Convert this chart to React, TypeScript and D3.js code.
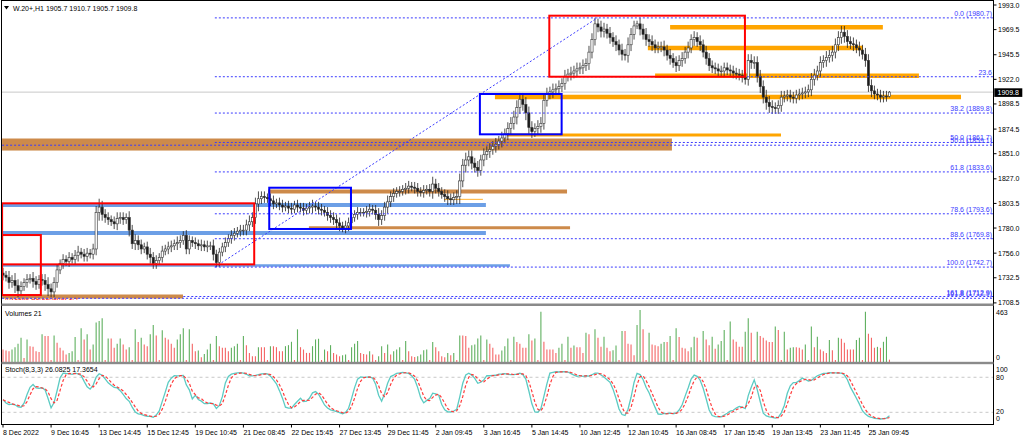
import React from 'react';
import * as d3 from 'd3';

const W = 1024;
const H = 440;

// ---------- DATA ----------
const HEADER = 'W.20+,H1  1905.7 1910.7 1905.7 1909.8';
const FIRST_OPEN = 1737;
const CLOSES = [
  1735,1733,1728,1730,1725,1720,1724,1728,1731,1732,
  1729,1726,1731,1730,1726,1722,1719,1728,1740,1746,
  1750,1748,1752,1750,1754,1757,1755,1753,1756,1755,
  1760,1795,1800,1793,1790,1788,1786,1784,1789,1790,
  1788,1790,1778,1765,1768,1764,1760,1762,1755,1752,
  1746,1749,1752,1758,1760,1762,1763,1765,1766,1768,
  1773,1760,1768,1766,1765,1763,1764,1762,1763,1763,
  1755,1747,1757,1762,1766,1770,1773,1775,1777,1778,
  1778,1783,1786,1790,1803,1808,1810,1809,1808,1806,
  1803,1804,1802,1800,1801,1799,1798,1802,1800,1799,
  1797,1799,1800,1801,1800,1798,1797,1795,1792,1790,
  1788,1785,1782,1780,1782,1785,1790,1793,1795,1795,
  1795,1796,1798,1797,1793,1788,1792,1800,1805,1810,
  1813,1815,1815,1817,1818,1820,1819,1818,1815,1814,
  1816,1817,1815,1822,1818,1815,1812,1810,1808,1807,
  1809,1810,1825,1840,1845,1848,1842,1838,1835,1845,
  1850,1853,1855,1858,1860,1863,1866,1870,1875,1880,
  1886,1895,1903,1898,1890,1876,1872,1875,1877,1880,
  1902,1908,1910,1912,1913,1915,1918,1925,1927,1928,
  1930,1932,1933,1935,1937,1948,1960,1975,1972,1968,
  1970,1966,1962,1958,1955,1950,1946,1945,1955,1965,
  1973,1975,1970,1965,1960,1958,1955,1952,1953,1953,
  1950,1945,1942,1938,1935,1940,1942,1948,1952,1960,
  1962,1958,1955,1948,1942,1935,1933,1932,1930,1930,
  1933,1931,1930,1928,1927,1926,1924,1922,1940,1938,
  1938,1925,1915,1905,1900,1896,1895,1894,1897,1905,
  1906,1907,1905,1904,1907,1908,1909,1910,1912,1922,
  1926,1930,1938,1940,1943,1945,1948,1955,1962,1967,
  1963,1958,1956,1955,1952,1950,1946,1940,1916,1911,
  1908,1907,1905,1906,1905.7,1909.8,
];
const WICKS = [
  5,4,6,5,7,6,5,4,5,4,
  6,5,4,5,6,7,5,5,5,4,
  5,4,5,4,5,6,4,5,5,4,
  5,6,8,6,5,5,4,5,6,5,
  5,4,6,5,6,5,5,4,5,6,
  5,5,4,5,4,5,5,4,6,5,
  4,5,5,4,5,4,5,4,5,4,
  6,4.3,4,4,5,4,5,5,4,5,
  5,5,6,5,6,7,5,5,4,5,
  5,4,5,5,4,5,5,4,5,4,
  5,4,5,6,4,5,5,4,5,5,
  5,5,5,4,5,5,5,4,5,4,
  4,5,5,4,5,6,5,5,6,5,
  5,4,5,4,5,5,4,5,5,4,
  5,4,5,7,5,5,4,5,6,5,
  5,6,7,6,7,6,6,5,6,5,
  6,5,6,5,6,5,6,5,6,6,
  6,7,6,6,7,6,6,5,6,6,
  6,6,5,6,5,6,5,6,5,6,
  5,6,5,6,5,6,6,5.7,5,6,
  6,5,6,5,6,5,6,5,7,6,
  5,3,6,5,6,5,6,5,5,5,
  6,5,6,5,6,5,6,5,6,5,
  6,5,6,5,6,5,5,5,5,5,
  5,5,5,5,5,5,5,5,6,6,
  6,6,6,6,7,6,6,5,5,6,
  5,5,5,5,5,5,5,5,5,6,
  6,5,6,5,6,5,6,6,6,6,
  6,6,5,6,5,6,5,6,6,6,
  5,5,5,5,5,1,
];
const VOLUMES = [
  111,102,96,111,132,162,216,36,201,141,
  135,96,90,246,231,231,18,237,171,126,
  102,66,81,96,222,18,300,201,246,111,
  156,351,366,390,18,210,210,126,162,210,
  156,111,132,18,291,177,216,156,141,246,
  330,237,18,282,216,201,162,126,201,246,
  300,18,291,162,96,102,42,72,111,162,
  18,231,141,126,126,96,126,141,162,18,
  231,150,81,51,51,132,132,132,18,141,
  141,132,96,96,141,150,180,18,291,132,
  111,81,81,141,201,207,18,111,96,150,
  81,66,51,60,66,18,132,162,186,81,
  72,66,96,66,18,51,141,81,156,66,
  96,111,132,18,186,96,51,45,51,66,
  105,111,18,177,132,96,51,42,81,60,
  81,18,237,237,231,126,150,156,210,237,
  18,201,162,126,66,66,102,141,210,18,
  225,177,162,126,126,246,192,210,18,447,
  180,111,111,111,81,126,162,18,225,126,
  147,132,132,81,261,246,18,291,216,135,
  225,126,96,105,147,18,276,276,162,156,
  60,330,463,291,18,261,156,150,141,162,
  177,177,231,18,300,222,126,120,96,132,
  225,216,18,276,201,150,225,117,156,186,
  285,18,360,201,180,135,135,270,390,261,
  18,270,231,216,192,177,177,315,285,18,
  270,111,126,132,132,126,111,156,18,315,
  132,225,111,96,81,195,105,18,216,207,
  171,111,111,111,195,216,18,447,252,216,
  126,135,126,180,225,21,
];
const TIME_LABELS = [
  '8 Dec 2022','9 Dec 16:45','13 Dec 14:45','15 Dec 12:45','19 Dec 10:45','21 Dec 08:45',
  '22 Dec 15:45','27 Dec 13:45','29 Dec 11:45','2 Jan 09:45','3 Jan 16:45','5 Jan 14:45',
  '10 Jan 12:45','12 Jan 10:45','16 Jan 08:45','17 Jan 15:45','19 Jan 13:45','23 Jan 11:45','25 Jan 09:45',
];
const TIME_LABEL_STEP = 16;
const PRICE_TICKS = [1993.0,1969.5,1945.5,1922.0,1898.5,1874.5,1851.0,1827.0,1803.5,1780.0,1756.0,1732.5,1708.5];
const PRICE_MIN = 1708.5;
const PRICE_MAX = 1993.0;
const LAST_PRICE = 1909.8;
const VOLUME_LABEL = 'Volumes 21';
const STOCH_LABEL = 'Stoch(8,3,3) 26.0825 17.3654';
const STOCH_K = 8, STOCH_SLOW = 3, STOCH_D = 3;
const STOCH_LEVELS = [80, 20];
const STOCH_AXIS = ['100', '80', '20', '0'];
const NOTE_TEXT = 'Investio Screenshot 1.4';

const FIB_FROM = { bar: 70.5, price: 1742.7 };
const FIB_TO = { bar: 197.8, price: 1980.7 };
const FIB_LEVELS = [
  { text: '0.0 (1980.7)', price: 1980.7, bar: 70.5 },
  { text: '23.6', price: 1924.5, bar: 70.5 },
  { text: '38.2 (1889.8)', price: 1889.8, bar: 70.5 },
  { text: '50.0 (1861.7)', price: 1861.7, bar: 70.5 },
  { text: '50.0 (1859.1)', price: 1859.1, bar: -0.3 },
  { text: '61.8 (1833.6)', price: 1833.6, bar: 70.5 },
  { text: '78.6 (1793.6)', price: 1793.6, bar: 70.5 },
  { text: '88.6 (1769.8)', price: 1769.8, bar: 70.5 },
  { text: '100.0 (1742.7)', price: 1742.7, bar: 70.5 },
  { text: '161.8 (1712.9)', price: 1714.6, bar: 60 },
  { text: '161.8 (1712.9)', price: 1712.9, bar: -0.3 },
];
const BOXES = [
  { b0: -0.3, b1: 12.6, p0: 1773.3, p1: 1716.0, kind: 'red' },
  { b0: -0.3, b1: 83.6, p0: 1803.6, p1: 1745.3, kind: 'red' },
  { b0: 181.8, b1: 246.9, p0: 1982.8, p1: 1924.5, kind: 'red' },
  { b0: 88.6, b1: 115.8, p0: 1818.5, p1: 1779.1, kind: 'blue' },
  { b0: 158.7, b1: 185.9, p0: 1908.0, p1: 1869.5, kind: 'blue' },
];
const ZONES = [{ b0: -0.3, b1: 222.6, p0: 1865.5, p1: 1854.0, kind: 'brown' }];
const BANDS = [
  { b0: -0.3, b1: 160.7, price: 1802.0, kind: 'blueA' },
  { b0: -0.3, b1: 160.7, price: 1775.2, kind: 'blueA' },
  { b0: -0.3, b1: 168.7, price: 1744.2, kind: 'blueB' },
  { b0: 88.2, b1: 187.7, price: 1814.9, kind: 'brownA' },
  { b0: 101.8, b1: 188.7, price: 1780.3, kind: 'brownB' },
  { b0: -0.3, b1: 59.9, price: 1714.6, kind: 'brownA' },
  { b0: 222.0, b1: 292.8, price: 1971.7, kind: 'orangeA' },
  { b0: 214.6, b1: 286.2, price: 1951.9, kind: 'orangeA' },
  { b0: 217.0, b1: 304.8, price: 1925.5, kind: 'orangeA' },
  { b0: 163.7, b1: 318.8, price: 1905.1, kind: 'orangeA' },
  { b0: 167.7, b1: 258.9, price: 1868.8, kind: 'orangeB' },
  { b0: 146.8, b1: 159.7, price: 1807.4, kind: 'orangeC' },
];

// ---------- STYLES ----------
const BAND_STYLE: Record<string, { color: string; width: number }> = {
  blueA: { color: '#6c9fe6', width: 4 },
  blueB: { color: '#6c9fe6', width: 2.6 },
  brownA: { color: '#cd8a4a', width: 4 },
  brownB: { color: '#cd8a4a', width: 3 },
  orangeA: { color: '#ffa500', width: 4.4 },
  orangeB: { color: '#ffa500', width: 3 },
  orangeC: { color: '#ffb030', width: 1 },
};
const BOX_COLOR: Record<string, string> = { red: '#ff0000', blue: '#0000ff' };
const FONT = 'Liberation Sans, Arial, sans-serif';
const FIB_COLOR = '#3b3bff';

const L = 1.5, R = 993.5;
const MAIN_T = 0.5, MAIN_B = 303.5;
const VOL_T = 306, VOL_B = 361.8;
const STO_T = 364.2, STO_B = 424.5;

export default function App() {
  const n = Math.min(CLOSES.length, WICKS.length, VOLUMES.length);
  const x = d3.scaleLinear().domain([0, 295]).range([3, 3 + 295 * 3.005]);
  const y = d3.scaleLinear().domain([PRICE_MIN, PRICE_MAX]).range([302.9, 5]);
  const yv = d3.scaleLinear().domain([0, d3.max(VOLUMES) as number]).range([362, 310]);
  const ys = d3.scaleLinear().domain([0, 100]).range([424, 365.6]);

  const candles = d3.range(n).map((i) => {
    const o = i === 0 ? FIRST_OPEN : CLOSES[i - 1];
    const c = CLOSES[i];
    const w = WICKS[i];
    return { i, o, c, h: Math.max(o, c) + w, l: Math.min(o, c) - w };
  });

  // Stochastic (MT4 style with slowing)
  const num: number[] = [], den: number[] = [];
  candles.forEach((cd, i) => {
    const win = candles.slice(Math.max(0, i - STOCH_K + 1), i + 1);
    const hh = d3.max(win, (d) => d.h) as number;
    const ll = d3.min(win, (d) => d.l) as number;
    num.push(cd.c - ll);
    den.push(hh - ll);
  });
  const kMain = d3.range(n).map((i) => {
    const s = Math.max(0, i - STOCH_SLOW + 1);
    const a = d3.sum(num.slice(s, i + 1));
    const b = d3.sum(den.slice(s, i + 1));
    return b === 0 ? 50 : (100 * a) / b;
  });
  const dSig = d3.range(n).map((i) => d3.mean(kMain.slice(Math.max(0, i - STOCH_D + 1), i + 1)) as number);
  const stLine = d3.line<number>().x((_, i) => x(i)).y((d) => ys(d)).curve(d3.curveLinear);

  const xRight = R - 0.5;

  return (
    <svg width={W} height={H} style={{ position: 'fixed', left: 0, top: 0, background: '#fff' }} fontFamily={FONT}>
      <defs>
        <clipPath id="cMain"><rect x={L} y={MAIN_T} width={R - L} height={MAIN_B - MAIN_T} /></clipPath>
        <clipPath id="cSto"><rect x={L} y={STO_T} width={R - L} height={STO_B - STO_T} /></clipPath>
      </defs>
      <rect x={0} y={0} width={W} height={H} fill="#fff" />

      {/* main panel */}
      <g clipPath="url(#cMain)">
        <line x1={L} x2={R} y1={y(LAST_PRICE)} y2={y(LAST_PRICE)} stroke="#c8c8c8" strokeWidth={1} />
        <text x={5} y={299.5} fontSize={7} fill="#ff0000">{NOTE_TEXT}</text>
        {ZONES.map((z, k) => (
          <rect key={'z' + k} x={x(z.b0)} width={x(z.b1) - x(z.b0)} y={y(z.p0)} height={y(z.p1) - y(z.p0)} fill="#cd8a4a" />
        ))}
        {BANDS.map((b, k) => (
          <line key={'b' + k} x1={x(b.b0)} x2={Math.min(x(b.b1), xRight)} y1={y(b.price)} y2={y(b.price)}
            stroke={BAND_STYLE[b.kind].color} strokeWidth={BAND_STYLE[b.kind].width} />
        ))}
        {candles.map((cd) => {
          const cx = x(cd.i);
          const top = y(Math.max(cd.o, cd.c));
          const bot = y(Math.min(cd.o, cd.c));
          const bull = cd.c >= cd.o;
          return (
            <g key={'c' + cd.i}>
              <line x1={cx} x2={cx} y1={y(cd.h)} y2={y(cd.l)} stroke="#222" strokeWidth={0.8} />
              <rect x={cx - 1.1} width={2.2} y={top} height={Math.max(0.8, bot - top)}
                fill={bull ? '#ffffff' : '#1a1a1a'} stroke="#333" strokeWidth={0.6} />
            </g>
          );
        })}
        {FIB_LEVELS.map((f, k) => (
          <g key={'f' + k}>
            <line x1={x(f.bar)} x2={R} y1={y(f.price)} y2={y(f.price)} stroke={FIB_COLOR} strokeWidth={1} strokeDasharray="2,2" />
            <text x={992} y={y(f.price) - 2} fontSize={7} fill={FIB_COLOR} textAnchor="end">{f.text}</text>
          </g>
        ))}
        <line x1={x(FIB_FROM.bar)} y1={y(FIB_FROM.price)} x2={x(FIB_TO.bar)} y2={y(FIB_TO.price)}
          stroke={FIB_COLOR} strokeWidth={1} strokeDasharray="2,2" />
        {BOXES.map((b, k) => (
          <rect key={'r' + k} x={x(b.b0)} width={x(b.b1) - x(b.b0)} y={y(b.p0)} height={y(b.p1) - y(b.p0)}
            fill="none" stroke={BOX_COLOR[b.kind]} strokeWidth={2} />
        ))}
      </g>

      {/* header */}
      <path d="M4,6 L9,6 L6.5,9.5 Z" fill="#000" />
      <text x={13} y={10.5} fontSize={7} fill="#000">{HEADER}</text>

      {/* volume panel */}
      {candles.map((cd) => {
        const v = VOLUMES[cd.i];
        const up = cd.i > 0 && v > VOLUMES[cd.i - 1];
        return (
          <line key={'v' + cd.i} x1={x(cd.i)} x2={x(cd.i)} y1={yv(0)} y2={yv(v)}
            stroke={up ? '#43a243' : '#f24a4a'} strokeWidth={1.1} strokeOpacity={0.85} />
        );
      })}
      <text x={5} y={315.5} fontSize={7} fill="#000">{VOLUME_LABEL}</text>

      {/* stochastic panel */}
      {STOCH_LEVELS.map((lv) => (
        <line key={'sl' + lv} x1={L} x2={R} y1={ys(lv)} y2={ys(lv)} stroke="#c8c8c8" strokeDasharray="3,3" strokeWidth={1} />
      ))}
      <g clipPath="url(#cSto)">
        <path d={stLine(kMain) || ''} fill="none" stroke="#5ccbc3" strokeWidth={1.3} />
        <path d={stLine(dSig) || ''} fill="none" stroke="#ff3b3b" strokeWidth={1.2} strokeDasharray="3,2" />
      </g>
      <text x={5} y={372} fontSize={7} fill="#000">{STOCH_LABEL}</text>

      {/* frames & separators */}
      <rect x={L} y={MAIN_T} width={R - L} height={STO_B - MAIN_T} fill="none" stroke="#000" strokeWidth={1} />
      <rect x={L} y={MAIN_B} width={R - L} height={VOL_T - MAIN_B} fill="#8a8a8a" />
      <rect x={L} y={VOL_B} width={R - L} height={STO_T - VOL_B} fill="#8a8a8a" />

      {/* price axis */}
      {PRICE_TICKS.map((p) => (
        <g key={'pt' + p}>
          <line x1={R} x2={R + 3} y1={y(p)} y2={y(p)} stroke="#000" strokeWidth={1} />
          <text x={998} y={y(p) + 2.5} fontSize={7} fill="#000">{p.toFixed(1)}</text>
        </g>
      ))}
      <rect x={994.3} y={88.3} width={28} height={8.6} fill="#000" />
      <text x={997.5} y={y(LAST_PRICE) + 2.6} fontSize={7} fill="#fff">{LAST_PRICE.toFixed(1)}</text>

      {/* volume axis */}
      <text x={996} y={315} fontSize={7} fill="#000">{d3.max(VOLUMES)}</text>
      <text x={996} y={359.5} fontSize={7} fill="#000">0</text>

      {/* stoch axis */}
      {STOCH_AXIS.map((t, k) => (
        <text key={'sa' + t} x={996} y={[371.5, 379.5, 413.5, 420.5][k]} fontSize={7} fill="#000">{t}</text>
      ))}

      {/* time axis */}
      {TIME_LABELS.map((t, k) => {
        const tx = x(k * TIME_LABEL_STEP);
        return (
          <g key={'t' + k}>
            <line x1={tx} x2={tx} y1={STO_B} y2={STO_B + 3} stroke="#000" strokeWidth={1} />
            <text x={tx} y={434.5} fontSize={7} fill="#000">{t}</text>
          </g>
        );
      })}
    </svg>
  );
}
